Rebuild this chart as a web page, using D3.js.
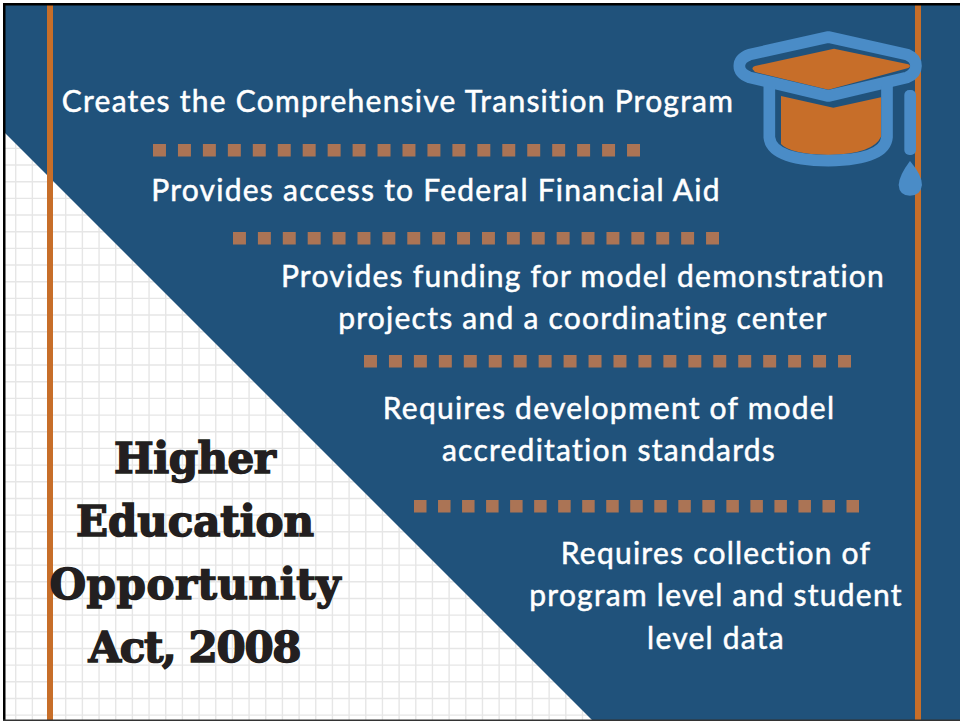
<!DOCTYPE html>
<html>
<head>
<meta charset="utf-8">
<script src="https://cdn.jsdelivr.net/npm/d3@7"></script>
<style>
html, body { margin: 0; padding: 0; background: #fff; }
svg { display: block; }
</style>
</head>
<body>
<div id="chart"></div>
<script>
const width = 960, height = 721;

const title = ["Higher", "Education", "Opportunity", "Act, 2008"];
const items = [
    ["Creates the Comprehensive Transition Program"],
    ["Provides access to Federal Financial Aid"],
    ["Provides funding for model demonstration", "projects and a coordinating center"],
    ["Requires development of model", "accreditation standards"],
    ["Requires collection of", "program level and student", "level data"]
];
const dotCounts = [20, 20, 20, 19];

// layout
const titleWidths = [162, 238, 291, 213];
const itemX = [398, 436, 583, 609, 716];
const itemY = [101, 190, 276, 408, 553];
const dotStart = [153, 233, 364, 414];
const dotEnd = [640, 719, 851, 859];
const dotY = [150, 238, 361, 506];

const BLUE = "#20527b", ORANGE = "#c76e29", LIGHT = "#4a8cc7", DOT = "#ab7455", GRID = "#e6e6e6", INK = "#231f20";

const svg = d3.select("#chart").append("svg")
    .attr("width", width)
    .attr("height", height);

// graph paper background
const gridStep = 16.67;
const gridX = d3.range(15.7, width, gridStep);
const gridY = d3.range(15, height, gridStep);
svg.append("g").selectAll("line").data(gridX).enter().append("line")
    .attr("x1", d => d).attr("x2", d => d)
    .attr("y1", 0).attr("y2", height)
    .attr("stroke", GRID).attr("stroke-width", 1.4);
svg.append("g").selectAll("line").data(gridY).enter().append("line")
    .attr("y1", d => d).attr("y2", d => d)
    .attr("x1", 0).attr("x2", width)
    .attr("stroke", GRID).attr("stroke-width", 1.4);

// diagonal blue panel
svg.append("path")
    .attr("d", d3.line()([[5, 133], [593, 721], [960, 721], [960, 0], [5, 0]]) + "Z")
    .attr("fill", BLUE);

// vertical bars
svg.append("g").selectAll("rect").data([47, 915]).enter().append("rect")
    .attr("x", d => d).attr("y", 0)
    .attr("width", 6).attr("height", height)
    .attr("fill", ORANGE);

// dotted separators
dotCounts.forEach((count, i) => {
    const x = d3.scaleBand()
        .domain(d3.range(count))
        .range([dotStart[i], dotEnd[i]])
        .paddingInner(0.48)
        .paddingOuter(0);
    svg.append("g").selectAll("rect").data(d3.range(count)).enter().append("rect")
        .attr("x", d => x(d))
        .attr("y", dotY[i] - 6)
        .attr("width", x.bandwidth())
        .attr("height", 12.5)
        .attr("fill", DOT);
});

// item text
items.forEach((lines, i) => {
    svg.append("text")
        .attr("text-anchor", "middle")
        .attr("font-family", "Lato")
        .attr("font-weight", 400)
        .attr("font-size", 30)
        .attr("letter-spacing", 1.24)
        .attr("fill", "#fff")
        .attr("stroke", "#fff")
        .attr("stroke-width", 0.5)
        .selectAll("tspan").data(lines).enter().append("tspan")
        .attr("x", itemX[i])
        .attr("y", (d, j) => itemY[i] + 10.7 + j * 42.5)
        .text(d => d);
});

// title
svg.append("text")
    .attr("text-anchor", "middle")
    .attr("font-family", "DejaVu Serif")
    .attr("font-weight", 700)
    .attr("font-size", 42)
    .attr("fill", INK)
    .attr("stroke", INK)
    .attr("stroke-width", 1.5)
    .selectAll("tspan").data(title).enter().append("tspan")
    .attr("x", 195)
    .attr("y", (d, i) => 473 + i * 63)
    .attr("textLength", (d, i) => titleWidths[i])
    .text(d => d);

// graduation cap icon, drawn in 1/3 px units taken from the crop
const cap = svg.append("g").attr("transform", "translate(700,0) scale(0.3333)");
cap.append("path")
    .attr("d", "M243 288 L400 323 L543 292 L543 410 Q520 462 385 465 Q270 462 243 432 Z")
    .attr("fill", ORANGE);
cap.append("path")
    .attr("d", "M158 208 Q155 202 165 198 L402 146 L625 193 Q635 198 625 204 L385 269 L165 216 Z")
    .attr("fill", ORANGE);
cap.append("path")
    .attr("d", "M385 111 L622 164 Q648 175 648 198 Q648 220 622 232 L385 288 L148 232 Q118 220 118 198 Q118 175 148 164 Z")
    .attr("fill", "none")
    .attr("stroke", LIGHT).attr("stroke-width", 35).attr("stroke-linejoin", "round");
cap.append("path")
    .attr("d", "M208 258 L208 412 Q215 480 385 482 Q555 480 561 412 L561 258")
    .attr("fill", "none")
    .attr("stroke", LIGHT).attr("stroke-width", 35);
cap.append("rect")
    .attr("x", 613).attr("y", 270)
    .attr("width", 35).attr("height", 195).attr("rx", 15)
    .attr("fill", LIGHT);
cap.append("path")
    .attr("d", "M630 483 Q666 525 666 555 Q662 587 630 587 Q598 587 596 555 Q598 525 630 483 Z")
    .attr("fill", LIGHT);

// frame
svg.append("rect").attr("x", 0).attr("y", 0).attr("width", 960).attr("height", 3).attr("fill", "#fff");
svg.append("rect").attr("x", 3).attr("y", 3).attr("width", 957).attr("height", 2.5).attr("fill", "#000");
svg.append("rect").attr("x", 0).attr("y", 0).attr("width", 3).attr("height", 721).attr("fill", "#fff");
svg.append("rect").attr("x", 3).attr("y", 3).attr("width", 2.5).attr("height", 718).attr("fill", "#000");
svg.append("rect").attr("x", 3).attr("y", 719.5).attr("width", 957).attr("height", 1.5).attr("fill", "#333");
</script>
</body>
</html>
